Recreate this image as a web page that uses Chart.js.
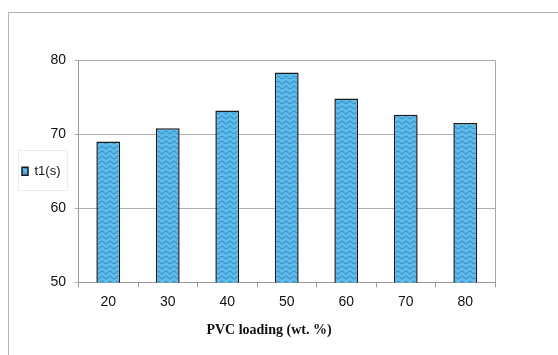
<!DOCTYPE html>
<html>
<head>
<meta charset="utf-8">
<script src="https://cdn.jsdelivr.net/npm/chart.js@4/dist/chart.umd.min.js"></script>
<style>
  html, body { margin: 0; padding: 0; background: #fff; }
  #wrap { position: relative; width: 558px; height: 355px; overflow: hidden; }
  #frame { position: absolute; left: 8px; top: 12px; width: 600px; height: 400px;
           border-left: 1px solid #b4b4b4; border-top: 1px solid #b4b4b4; }
  #chart { position: absolute; left: 0; top: 0; }
</style>
</head>
<body>
<div id="wrap">
  <div id="frame"></div>
  <canvas id="chart" width="558" height="355"></canvas>
</div>
<script>
const loadings = ["20", "30", "40", "50", "60", "70", "80"];
const t1Values = [69.0, 70.8, 73.2, 78.3, 74.8, 72.6, 71.5];
const yTicks = [50, 60, 70, 80];

// wavy blue fill like the old spreadsheet pattern
function wavePattern() {
  const c = document.createElement("canvas");
  c.width = 8;
  c.height = 5;
  const g = c.getContext("2d");
  g.fillStyle = "#5cbbe8";
  g.fillRect(0, 0, 8, 5);
  g.strokeStyle = "#2b7fc4";
  g.lineWidth = 1;
  g.beginPath();
  for (let x = 0; x <= 8; x += 0.5) {
    const y = 2.5 + 1.2 * Math.sin((x / 8) * Math.PI * 2);
    if (x === 0) g.moveTo(x, y);
    else g.lineTo(x, y);
  }
  g.stroke();
  return g.createPattern(c, "repeat");
}

const ctx = document.getElementById("chart").getContext("2d");
const fill = wavePattern();

// plot border, faint legend box, legend moved up to mid plot,
// axis title sits a bit left of the plot centre like the original
const framePlugin = {
  id: "framePlugin",
  afterLayout(chart) {
    const lg = chart.legend;
    const mid = (chart.chartArea.top + chart.chartArea.bottom) / 2;
    const half = mid - lg.top;
    lg.bottom = lg.top + half * 2;
    lg.height = lg.bottom - lg.top;
    const tb = chart.titleBlock;
    tb.left = 43;
    tb.right = 495;
    tb.width = tb.right - tb.left;
  },
  afterDraw(chart) {
    const a = chart.chartArea;
    const c = chart.ctx;
    c.save();
    c.strokeStyle = "#a8a8a8";
    c.lineWidth = 1;
    c.beginPath();
    c.moveTo(a.left, a.top + 0.5);
    c.lineTo(a.right + 0.5, a.top + 0.5);
    c.lineTo(a.right + 0.5, a.bottom);
    c.stroke();
    c.strokeStyle = "#ececec";
    c.strokeRect(18.5, 150.5, 49, 40);
    c.restore();
  },
};

new Chart(ctx, {
  type: "bar",
  data: {
    labels: loadings,
    datasets: [
      {
        label: "t1(s)",
        data: t1Values,
        backgroundColor: fill,
        borderColor: "#1a1a1a",
        borderWidth: 1.5,
        categoryPercentage: 1.0,
        barPercentage: 0.4,
      },
    ],
  },
  options: {
    responsive: false,
    animation: false,
    layout: { padding: { top: 60, right: 63, bottom: 16, left: 18 } },
    plugins: {
      tooltip: { enabled: false },
      title: {
        display: true,
        position: "bottom",
        text: "PVC loading (wt. %)",
        color: "#111",
        padding: { top: 6, bottom: 0 },
        font: { family: "Liberation Serif, Times New Roman", size: 14, weight: "bold" },
      },
      legend: {
        position: "left",
        labels: {
          boxWidth: 6,
          boxHeight: 8,
          padding: 4,
          color: "#111",
          font: { family: "Liberation Sans, Arial", size: 13 },
        },
      },
    },
    scales: {
      x: {
        offset: true,
        grid: { drawOnChartArea: false, offset: true, tickLength: 5, color: "#999" },
        border: { color: "#999" },
        ticks: {
          color: "#111",
          padding: 6,
          font: { family: "Liberation Sans, Arial", size: 14 },
        },
      },
      y: {
        min: 50,
        max: 80,
        afterBuildTicks(scale) {
          scale.ticks = yTicks.map((v) => ({ value: v }));
        },
        afterFit(scale) {
          scale.width = 8;
        },
        grid: { color: "#b0b0b0", tickLength: 4 },
        border: { color: "#999" },
        ticks: {
          mirror: true,
          padding: -28,
          color: "#111",
          font: { family: "Liberation Sans, Arial", size: 14 },
        },
      },
    },
  },
  plugins: [framePlugin],
});
</script>
</body>
</html>
